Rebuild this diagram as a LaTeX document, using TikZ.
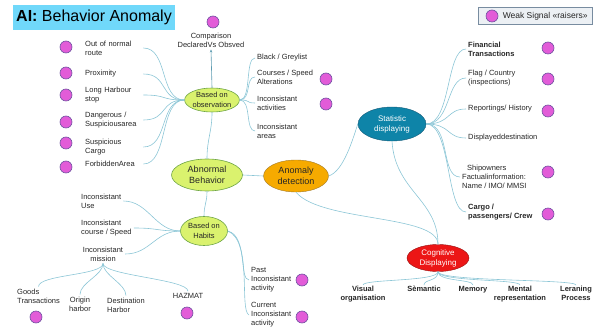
\documentclass[tikz,border=0pt]{standalone}
\usepackage{fontspec}
\setmainfont{Liberation Sans}
\usetikzlibrary{positioning,shapes.geometric,arrows.meta}

\definecolor{linkblue}{RGB}{140,198,214}
\definecolor{greenfill}{RGB}{218,242,110}
\definecolor{greenedge}{RGB}{110,165,70}
\definecolor{orangefill}{RGB}{246,170,0}
\definecolor{orangeedge}{RGB}{160,120,40}
\definecolor{tealfill}{RGB}{14,132,168}
\definecolor{tealedge}{RGB}{20,90,120}
\definecolor{redfill}{RGB}{236,22,22}
\definecolor{rededge}{RGB}{150,20,20}
\definecolor{pinkfill}{RGB}{226,92,216}
\definecolor{pinkedge}{RGB}{110,80,160}
\definecolor{titleblue}{RGB}{112,216,250}
\definecolor{keyfill}{RGB}{236,240,244}
\definecolor{keyedge}{RGB}{120,140,160}

\begin{document}
\begin{tikzpicture}[x=1pt,y=-1pt,
    every node/.style={font=\fontsize{7.5}{9}\selectfont, text=black!85},
    item/.style={align=left, inner sep=2pt},
    topic/.style={ellipse, draw=greenedge, fill=greenfill, inner sep=0pt, align=center, line width=0.6pt},
    signal/.style={circle, draw=pinkedge, fill=pinkfill, minimum size=12pt, inner sep=0pt, line width=0.6pt},
    link/.style={draw=linkblue, line width=0.6pt}]
    \useasboundingbox (0,0) rectangle (593,331);

    % Title
    \node[anchor=north west, fill=titleblue, minimum width=160pt, minimum height=25pt, inner xsep=3pt,
          font=\fontsize{16}{18}\selectfont, text=black] (title) at (13,5) {\textbf{AI:} Behavior Anomaly};
    % Legend
    \node[anchor=west, draw=keyedge, fill=keyfill, minimum height=17pt, minimum width=114pt, inner sep=0pt,
          font=\fontsize{8.5}{9}\selectfont] (key) at (478,16) {\hspace{20pt}Weak Signal «raisers»\hfill};
    \node[signal] (keydot) at (492,16) {};

    % Main topics
    \node[topic, minimum width=71pt, minimum height=32pt, font=\fontsize{9}{11}\selectfont] (ab) at (207,175) {Abnormal\\Behavior};
    \node[ellipse, draw=orangeedge, fill=orangefill, minimum width=65pt, minimum height=32pt, inner sep=0pt,
          align=center, font=\fontsize{9}{11}\selectfont] (anom) at (296,176) {Anomaly\\detection};
    \node[ellipse, draw=tealedge, fill=tealfill, minimum width=68pt, minimum height=34pt, inner sep=0pt,
          align=center, font=\fontsize{8}{10}\selectfont, text=white] (stat) at (392,124) {Statistic\\displaying};
    \node[ellipse, draw=rededge, fill=redfill, minimum width=62pt, minimum height=27pt, inner sep=0pt,
          align=center, font=\fontsize{8}{10}\selectfont, text=white] (cog) at (438,258) {Cognitive\\Displaying};

    % Based on observation
    \node[topic, minimum width=46pt, minimum height=24pt, font=\fontsize{7.5}{9.5}\selectfont] (obs) at (212,100) {Based on\\observation};
    \node[align=center, inner sep=2pt] (cmp) at (211,40) {Comparison\\DeclaredVs Obsved};
    \node[signal] (cmpdot) at (213,22) {};

    \node[item, anchor=west, text width=56pt] (route) at (83,48) {Out of normal\\route};
    \node[item, anchor=west, text width=56pt] (prox) at (83,74) {Proximity};
    \node[item, anchor=west, text width=56pt] (stop) at (83,95) {Long Harbour\\stop};
    \node[item, anchor=west, text width=56pt] (danger) at (83,120) {Dangerous /\\Suspiciousarea};
    \node[item, anchor=west, text width=56pt] (cargo) at (83,147) {Suspicious\\Cargo};
    \node[item, anchor=west, text width=56pt] (forbid) at (83,164) {ForbiddenArea};
    \foreach \y in {47,73,95,122,143,167}
        \node[signal] at (66,\y) {};

    \node[item, anchor=west] (black) at (255,58) {Black / Greylist};
    \node[item, anchor=west] (speed) at (255,77) {Courses / Speed\\Alterations};
    \node[item, anchor=west] (activ) at (255,103) {Inconsistant\\activities};
    \node[item, anchor=west] (areas) at (255,131) {Inconsistant\\areas};
    \node[signal] (speeddot) at (326,79) {};
    \node[signal] (activdot) at (326,104) {};

    % Based on habits
    \node[topic, minimum width=47pt, minimum height=29pt, font=\fontsize{7.5}{9.5}\selectfont] (hab) at (204,231) {Based on\\Habits};
    \node[item, anchor=west] (use) at (79,201) {Inconsistant\\Use};
    \node[item, anchor=west] (course) at (79,228) {Inconsistant\\course / Speed};
    \node[align=center, inner sep=2pt] (mission) at (103,254) {Inconsistant\\mission};

    \node[item, anchor=west] (goods) at (15,296) {Goods\\Transactions};
    \node[align=center, inner sep=2pt] (origin) at (80,304) {Origin\\harbor};
    \node[item, anchor=west] (dest) at (105,305) {Destination\\Harbor};
    \node[align=center, inner sep=2pt] (hazmat) at (188,296) {HAZMAT};
    \node[signal] (goodsdot) at (36,317) {};
    \node[signal] (hazmatdot) at (187,313) {};

    \node[item, anchor=west] (past) at (249,280) {Past\\Inconsistant\\activity};
    \node[item, anchor=west] (current) at (249,315) {Current\\Inconsistant\\activity};
    \node[signal] (pastdot) at (302,280) {};
    \node[signal] (currentdot) at (302,317) {};

    % Statistic displaying
    \node[item, anchor=west, font=\fontsize{7.5}{9}\selectfont\bfseries] (finance) at (466,49) {Financial\\Transactions};
    \node[item, anchor=west] (flag) at (466,78) {Flag / Country\\(inspections)};
    \node[item, anchor=west] (report) at (466,109) {Reportings/ History};
    \node[item, anchor=west] (destin) at (466,138) {Displayeddestination};
    \node[item, anchor=west] (owner) at (460,177) {\hspace*{5pt}Shipowners\\Factualinformation:\\Name / IMO/ MMSI};
    \node[item, anchor=west, font=\fontsize{7.5}{9}\selectfont\bfseries] (crew) at (466,212) {Cargo /\\passengers/ Crew};
    \foreach \y in {48,79,111,172,214}
        \node[signal] at (548,\y) {};

    % Cognitive displaying
    \node[align=center, anchor=north, inner sep=1pt, font=\fontsize{7.5}{9}\selectfont\bfseries] (visual) at (363,285) {Visual\\organisation};
    \node[align=center, anchor=north, inner sep=1pt, font=\fontsize{7.5}{9}\selectfont\bfseries] (sem) at (424,285) {Sèmantic};
    \node[align=center, anchor=north, inner sep=1pt, font=\fontsize{7.5}{9}\selectfont\bfseries] (memory) at (473,285) {Memory};
    \node[align=center, anchor=north, inner sep=1pt, font=\fontsize{7.5}{9}\selectfont\bfseries] (mental) at (520,285) {Mental\\representation};
    \node[align=center, anchor=north, inner sep=1pt, font=\fontsize{7.5}{9}\selectfont\bfseries] (learn) at (576,285) {Leraning\\Process};

    % Links
    \foreach \n in {route,prox,stop,danger,cargo,forbid}
        \draw[link] (obs.west) .. controls +(-25,0) and +(25,0) .. (\n.east);
    \foreach \n in {black,speed,activ,areas}
        \draw[link] (obs.east) .. controls +(12,0) and +(-10,0) .. (\n.west);
    \draw[link, -{Stealth[length=3pt,width=2.5pt]}, draw=linkblue!60!tealedge] (obs.north) -- (cmp.south);

    \draw[link] (obs.south) .. controls +(0,20) and +(0,-20) .. (ab.north);
    \draw[link] (ab.south) .. controls +(0,12) and +(0,-12) .. (hab.north);
    \draw[link] (ab.east) -- (anom.west);

    \foreach \n in {use,course,mission}
        \draw[link] (hab.west) .. controls +(-25,0) and +(25,0) .. (\n.east);
    \foreach \n in {goods,origin,dest,hazmat}
        \draw[link] (mission.south) .. controls +(0,12) and +(0,-12) .. (\n.north);
    \draw[link] (hab.east) .. controls +(20,5) and +(-10,0) .. (past.west);
    \draw[link] (hab.east) .. controls +(25,10) and +(-10,-5) .. (current.west);

    \draw[link] (anom.east) .. controls +(15,-5) and +(-5,15) .. (stat.west);
    \foreach \n in {finance,flag,report,destin,owner,crew}
        \draw[link] (stat.east) .. controls +(25,0) and +(-20,0) .. (\n.west);

    \draw[link] (stat.south) .. controls +(3,50) and +(0,-45) .. (cog.north);
    \draw[link] (anom.south) .. controls +(25,30) and +(0,-30) .. (cog.north);
    \foreach \n in {visual,sem,memory,mental,learn}
        \draw[link] (cog.south) .. controls +(0,10) and +(0,-6) .. (\n.north);
\end{tikzpicture}
\end{document}
